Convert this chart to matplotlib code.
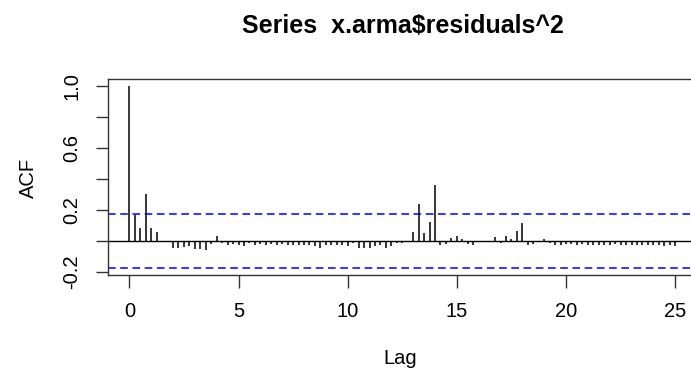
import numpy as np
import matplotlib
matplotlib.use('Agg')
import matplotlib.pyplot as plt

plt.rcParams['font.family'] = ['Liberation Sans', 'DejaVu Sans']

# acf of squared residuals, quarterly series (frequency 4), lags 0..25
freq = 4
acf = [1.000, 0.171, 0.086, 0.306, 0.084, 0.060, -0.004, 0.002,
       -0.043, -0.043, -0.039, -0.032, -0.049, -0.049, -0.056, -0.019,
       0.036, -0.011, -0.026, -0.021, -0.026, -0.034, -0.011, -0.026,
       -0.021, -0.026, -0.021, -0.026, -0.019, -0.026, -0.026, -0.026,
       -0.026, -0.026, -0.032, -0.043, -0.026, -0.026, -0.026, -0.026,
       -0.032, -0.015, -0.043, -0.043, -0.043, -0.032, -0.026, -0.043,
       -0.032, -0.015, -0.011, -0.009, 0.060, 0.242, 0.054, 0.124,
       0.362, -0.026, -0.019, 0.019, 0.036, 0.011, -0.019, -0.026,
       -0.009, -0.009, 0.003, 0.028, -0.011, 0.036, 0.011, 0.066,
       0.116, -0.026, -0.019, 0.002, 0.011, -0.011, -0.026, -0.026,
       -0.019, -0.019, -0.026, -0.019, -0.026, -0.026, -0.026, -0.026,
       -0.026, -0.019, -0.026, -0.026, -0.026, -0.026, -0.026, -0.026,
       -0.026, -0.026, -0.034, -0.026, -0.034]
ci = 0.172
xticks = [0, 5, 10, 15, 20, 25]
yticks = [-0.2, 0.0, 0.2, 0.4, 0.6, 0.8, 1.0]
ylabels = ['-0.2', '', '0.2', '', '0.6', '', '1.0']

lags = np.arange(len(acf)) / freq

W, H = 691, 369
fig = plt.figure(figsize=(W / 100, H / 100), dpi=100)
left, right, top, bottom = 107.5, 697, 79, 274.7
ax = fig.add_axes([left / W, (H - bottom) / H, (right - left) / W, (bottom - top) / H])

ax.vlines(lags, 0, acf, color='black', linewidth=1.1)
ax.axhline(0, color='black', linewidth=1)
ax.axhline(ci, color='blue', linestyle=(0, (5, 3)), linewidth=1.1)
ax.axhline(-ci, color='blue', linestyle=(0, (5, 3)), linewidth=1.1)

ax.set_xlim(-1, 26)
ax.set_ylim(-0.217, 1.047)
ax.set_xticks(xticks)
ax.set_yticks(yticks)
ax.set_yticklabels(ylabels, rotation=90, va='center')
ax.tick_params(length=9, width=1, labelsize=14.5, color='#333333')
ax.tick_params(axis='x', pad=11)
ax.tick_params(axis='y', pad=10)
for s in ax.spines.values():
    s.set_color('#333333')
    s.set_linewidth(1)

fig.text(28 / W, 1 - 178 / H, 'ACF', rotation=90, ha='center', va='center', fontsize=14.5)
fig.text(400 / W, 1 - 358 / H, 'Lag', ha='center', va='center', fontsize=14.5)
fig.text(403 / W, 1 - 26 / H, 'Series  x.arma$residuals^2', ha='center', va='center',
         fontsize=18, fontweight='bold')

fig.savefig('out.png', dpi=100)
